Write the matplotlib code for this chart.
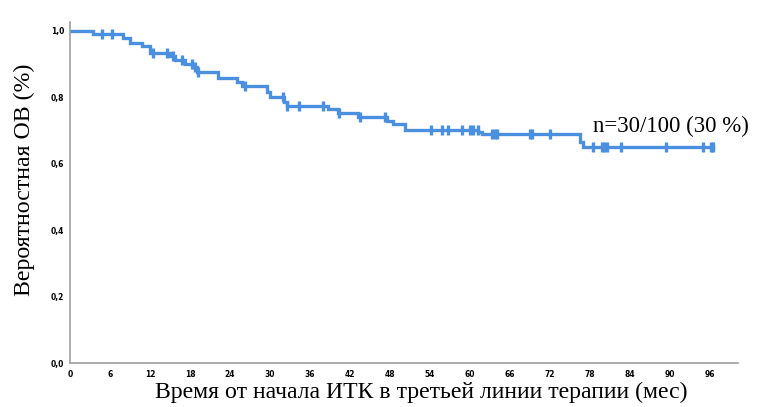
import numpy as np
import matplotlib.pyplot as plt

# Kaplan-Meier step curve: time of each drop (months) and survival after it
step_times = [0, 3.5, 8.0, 9.0, 10.75, 12.0, 15.0, 15.75, 17.25, 18.5, 19.0,
              22.25, 25.0, 25.75, 29.5, 30.0, 32.1, 32.5, 38.75, 40.25, 43.25,
              47.6, 48.5, 50.25, 61.25, 61.75, 76.5, 77.0]
step_surv = [1.0, 0.99, 0.98, 0.965, 0.955, 0.935, 0.925, 0.912, 0.902, 0.892, 0.877,
             0.857, 0.847, 0.834, 0.817, 0.80, 0.787, 0.775, 0.765, 0.754, 0.742,
             0.73, 0.719, 0.703, 0.697, 0.689, 0.667, 0.652]
end_time = 96.4

# censored observations (months)
censor_times = [4.75, 6.25, 12.5, 14.5, 15.5, 16.75, 18.25, 18.75, 19.25, 26.25,
                31.9, 32.6, 34.4, 38.0, 40.4, 43.5, 47.25, 54.1, 55.75, 56.75,
                58.75, 60.0, 60.4, 61.15, 63.25, 63.75, 64.1, 69.0, 69.25, 72.0,
                78.5, 79.75, 80.15, 80.5, 82.65, 89.4, 95.0, 96.15, 96.4]

x_ticks = list(range(0, 97, 6))
y_ticks = [0.0, 0.2, 0.4, 0.6, 0.8, 1.0]
note = "n=30/100 (30 %)"

blue = "#4a8fe0"
serif = "Liberation Serif"

fig = plt.figure(figsize=(7.59, 4.07), dpi=100)
ax = fig.add_axes([70 / 759, 44 / 407, 668 / 759, 341.3 / 407])

t = np.append(step_times, end_time)
s = np.append(step_surv, step_surv[-1])
ax.step(t, s, where="post", color=blue, lw=2.4, solid_joinstyle="miter")

# survival value at each censoring time
idx = np.searchsorted(step_times, censor_times, side="right") - 1
cens_y = np.array(step_surv)[idx]
ax.plot(censor_times, cens_y, ls="none", marker="|", ms=7, mew=2.4, color=blue)

ax.text(78.45, 0.696, note, fontfamily=serif, fontsize=16.5, va="baseline", ha="left")

ax.set_xlim(0, 100.2)
ax.set_ylim(0, 1.028)
ax.set_xticks(x_ticks)
ax.set_xticklabels([str(v) for v in x_ticks])
ax.set_yticks(y_ticks)
ax.set_yticklabels([f"{v:.1f}".replace(".", ",") for v in y_ticks])
ax.tick_params(length=0, labelsize=6)
ax.tick_params(axis="x", pad=5)
ax.tick_params(axis="y", pad=4)
for lab in ax.get_xticklabels() + ax.get_yticklabels():
    lab.set_fontweight("bold")
    lab.set_fontstretch("condensed")

for side in ["top", "right"]:
    ax.spines[side].set_visible(False)
for side in ["left", "bottom"]:
    ax.spines[side].set_color("#a0a0a0")
    ax.spines[side].set_linewidth(1.2)

fig.text(421 / 759, 1 - 392 / 407, "Время от начала ИТК в третьей линии терапии (мес)",
         fontfamily=serif, fontsize=17.1, ha="center", va="center")
fig.text(24 / 759, 1 - 180 / 407, "Вероятностная ОВ (%)",
         fontfamily=serif, fontsize=17.2, ha="center", va="center", rotation=90)

fig.savefig("out.png", dpi=100)
